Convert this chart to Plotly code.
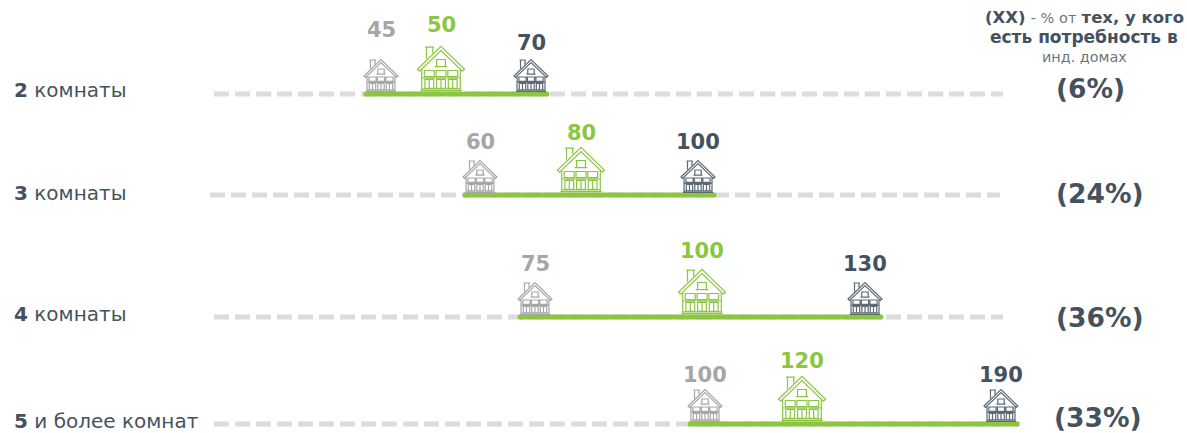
import numpy as np
import plotly.graph_objects as go

# --- data ---
row_numbers = ["2", "3", "4", "5"]
row_names = ["комнаты", "комнаты", "комнаты", "и более комнат"]
low_values = [45, 60, 75, 100]
typical_values = [50, 80, 100, 120]
high_values = [70, 100, 130, 190]
share_labels = ["(6%)", "(24%)", "(36%)", "(33%)"]

# --- layout: the infographic's hand-placed, non-linear value scale ---
scale_values = [45, 50, 60, 70, 75, 80, 100, 120, 130, 190]
scale_pixels = [381, 441, 484, 531, 535, 585, 702, 799, 865, 998]
row_shift = [0, -4, 0, 3]
row_y = [94, 195, 317, 424]
row_label_y = [90, 193, 314, 421]
share_y = [88, 193, 317, 417]
share_x = [1054, 1054, 1054, 1052]
dash_start = [214, 210, 214, 214]
dash_end = [1003, 1000, 1003, 1020]
label_lift = [(64, 69, 51), (53, 62, 53), (53, 66, 53), (49, 63, 49)]

GREY, GREEN, DARK, TEXT = "#a6a6a6", "#8cc640", "#5d6a76", "#44525f"
FONT = "DejaVu Sans"


def sx(v, row):
    return float(np.interp(v, scale_values, scale_pixels)) + row_shift[row]


def house_path(s):
    """House pictogram in pixels, origin at the middle of its base, y up."""
    def P(pts, close=False):
        return "M" + " L".join(f"{x*s:.1f},{y*s:.1f}" for x, y in pts) + (" Z" if close else "")
    parts = [
        P([(-15, 2.5), (15, 2.5)]),
        P([(-14, 3.8), (14, 3.8)]),
        P([(-14, 2.5), (-14, 18)]),
        P([(14, 2.5), (14, 18)]),
        P([(-17, 18), (0, 34.5), (17, 18), (15.5, 16.5), (0, 31.5), (-15.5, 16.5)], True),
        P([(-10.5, 25.5), (-10.5, 34), (-6, 34), (-6, 29.5)]),
        P([(-11.5, 34), (-5, 34)]),
        P([(-3.2, 19.8), (-3.2, 25), (3.2, 25), (3.2, 19.8)], True),
        P([(-4.5, 19.8), (4.5, 19.8)]),
    ]
    for cx in (-8.5, 0, 8.5):
        parts.append(P([(cx - 3.6, 12.6), (cx - 3.6, 17), (cx + 3.6, 17), (cx + 3.6, 12.6)], True))
        parts.append(P([(cx - 3.2, 4.1), (cx - 3.2, 10.6), (cx + 3.2, 10.6), (cx + 3.2, 4.1)], True))
        parts.append(P([(cx, 4.1), (cx, 10.6)]))
    parts.append(P([(-14, 11.6), (14, 11.6)]))
    return " ".join(parts)


fig = go.Figure()
shapes, notes = [], []


def note(x, y, text, size, color, anchor="center", **kw):
    notes.append(dict(x=x, y=y, xref="x", yref="y", text=text, showarrow=False,
                      xanchor=anchor, yanchor="middle",
                      font=dict(family=FONT, size=size, color=color), **kw))


for i in range(4):
    y = row_y[i]
    fig.add_trace(go.Scatter(x=[dash_start[i], dash_end[i]], y=[y, y], mode="lines",
                             line=dict(color="#dcdcdc", width=5, dash="15px,6px"),
                             hoverinfo="skip", showlegend=False))
    a, b = sx(low_values[i], i) - 15, sx(high_values[i], i) + 16
    fig.add_trace(go.Scatter(x=[a, b], y=[y, y], mode="lines+markers",
                             line=dict(color=GREEN, width=5),
                             marker=dict(color=GREEN, size=5),
                             hoverinfo="skip", showlegend=False))
    trio = [(low_values[i], GREY, 1.0), (typical_values[i], GREEN, 1.38), (high_values[i], DARK, 1.0)]
    for (v, col, s), lift in zip(trio, label_lift[i]):
        x = sx(v, i)
        shapes.append(dict(type="path", xsizemode="pixel", ysizemode="pixel",
                           xanchor=x, yanchor=y, path=house_path(s),
                           line=dict(color=col, width=1.2), layer="above"))
        note(x, y - lift, f"<b>{v}</b>", 21, {GREY: GREY, GREEN: GREEN, DARK: TEXT}[col])
    note(12, row_label_y[i], f"<b>{row_numbers[i]}</b> {row_names[i]}", 20, TEXT, "left")
    note(share_x[i], share_y[i], f"<b>{share_labels[i]}</b>", 26.5, TEXT, "left")

note(1084, 17, "<b>(ХХ)</b> <span style='color:#6b7680;font-size:14.5px'>- % от</span> <b>тех, у кого</b>", 16.5, TEXT)
note(1084, 37, "<b>есть потребность в</b>", 17, TEXT)
note(1084, 57, "инд. домах", 14.4, "#6b7680")

fig.update_layout(
    width=1187, height=433, margin=dict(l=0, r=0, t=0, b=0),
    paper_bgcolor="white", plot_bgcolor="white", shapes=shapes, annotations=notes,
    xaxis=dict(range=[0, 1187], visible=False, fixedrange=True),
    yaxis=dict(range=[433, 0], visible=False, fixedrange=True),
)
fig.write_html("out.html", config=dict(displayModeBar=False),
               post_script="document.body.style.margin='0';document.body.style.overflow='hidden';")
